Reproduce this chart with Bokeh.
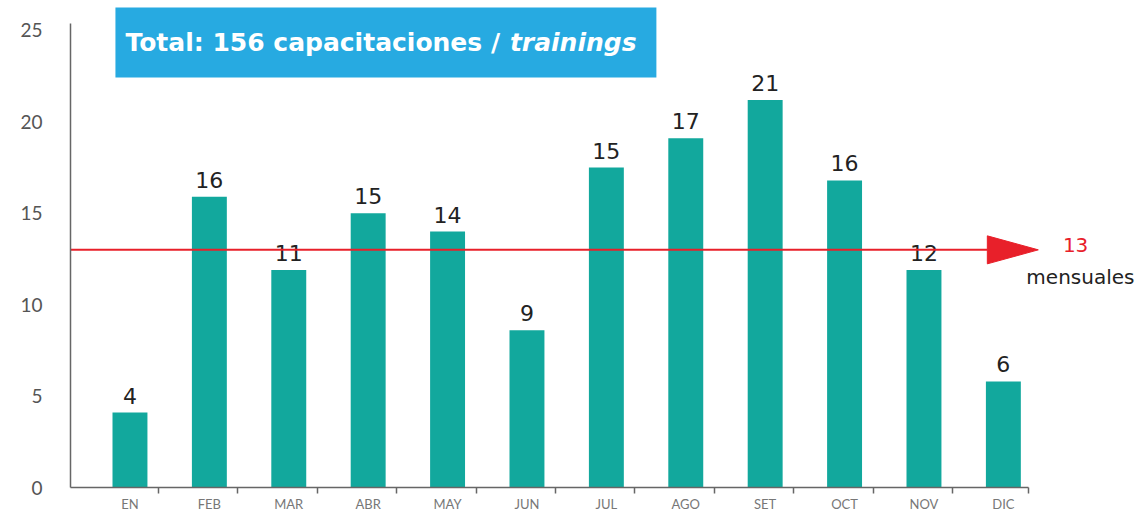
import numpy as np
from bokeh.plotting import figure
from bokeh.models import Range1d, FixedTicker, Label, BoxAnnotation, ColumnDataSource
from bokeh.core.properties import value
from bokeh.embed import file_html
from bokeh.resources import INLINE

# ---- data ----
months = ["EN", "FEB", "MAR", "ABR", "MAY", "JUN", "JUL", "AGO", "SET", "OCT", "NOV", "DIC"]
bar_heights = [4.1, 15.9, 11.9, 15.0, 14.0, 8.6, 17.5, 19.1, 21.2, 16.8, 11.9, 5.8]
value_labels = [4, 16, 11, 15, 14, 9, 15, 17, 21, 16, 12, 6]
monthly_avg = 13
total = 156
y_ticks = [0, 5, 10, 15, 20, 25]

FONT = "DejaVu Sans"
TICKFONT = "Lato"
TEAL = "#12A89D"
RED = "#E8202A"
BLUE = "#27AAE1"

x = np.arange(len(months))
x_start, x_axis_end = -0.749, 11.316
x_end = x_start + 1068 / 79.4
y_end = 26.64

p = figure(frame_width=1068, frame_height=487, output_backend="svg", toolbar_location=None,
           x_range=Range1d(x_start, x_end), y_range=Range1d(0, y_end),
           min_border_left=70, min_border_right=0, min_border_top=0, min_border_bottom=0)
p.outline_line_color = None
p.grid.visible = False
p.background_fill_color = "white"

src = ColumnDataSource(dict(x=x, top=bar_heights, lab=[str(v) for v in value_labels]))

# title box
p.add_layout(BoxAnnotation(left=-0.183, right=6.63, bottom=22.43, top=26.26,
                           fill_color=BLUE, fill_alpha=1.0, line_color=None, level="underlay"))
p.add_layout(Label(x=-0.057, y=24.34, text=f"Total: {total} capacitaciones /",
                   text_font=FONT, text_font_style="bold", text_font_size="25px",
                   text_color="white", text_baseline="middle", text_align="left"))
p.add_layout(Label(x=6.38, y=24.34, text="trainings",
                   text_font=FONT, text_font_style="bold italic", text_font_size="25px",
                   text_color="white", text_baseline="middle", text_align="right"))

# bars
p.vbar(x="x", top="top", width=0.44, source=src, fill_color=TEAL, line_color=None)
p.text(x="x", y="top", text="lab", source=src, text_align="center", text_baseline="bottom",
       y_offset=-9, text_font=value(FONT), text_font_size="22px", text_color="#222222")

# average line with arrow
head_len = 0.642
head_half = 0.766
tip = 11.44
p.line(x=[x_start, tip - head_len], y=[monthly_avg, monthly_avg], line_color=RED, line_width=2)
p.patch(x=[tip - head_len, tip, tip - head_len],
        y=[monthly_avg + head_half, monthly_avg, monthly_avg - head_half],
        fill_color=RED, line_color=RED)
p.text(x=[11.91], y=[monthly_avg + 0.24], text=[str(monthly_avg)], text_align="center",
       text_baseline="middle", text_font=value(FONT), text_font_size="20px", text_color=RED)
p.text(x=[11.97], y=[11.54], text=["mensuales"], text_align="center",
       text_baseline="middle", text_font=value(FONT), text_font_size="20px", text_color="#222222")

# axes
xa = p.xaxis[0]
xa.bounds = (x_start, x_axis_end)
boundaries = [i + 0.36 for i in range(len(months) - 1)] + [x_axis_end]
xa.ticker = FixedTicker(ticks=list(x), minor_ticks=boundaries)
xa.major_label_overrides = {int(i): m for i, m in zip(x, months)}
xa.major_tick_line_color = None
xa.major_tick_out = 0
xa.major_tick_in = 0
xa.minor_tick_line_color = "#666666"
xa.minor_tick_line_width = 1.5
xa.minor_tick_out = 6
xa.minor_tick_in = 0
xa.axis_line_color = "#666666"
xa.axis_line_width = 1.5
xa.major_label_standoff = 2
xa.major_label_text_font = TICKFONT
xa.major_label_text_font_size = "13px"
xa.major_label_text_color = "#777777"

ya = p.yaxis[0]
ya.bounds = (0, 25.38)
ya.ticker = FixedTicker(ticks=y_ticks, minor_ticks=[])
ya.major_tick_line_color = None
ya.major_tick_out = 0
ya.major_tick_in = 0
ya.minor_tick_line_color = None
ya.axis_line_color = "#666666"
ya.axis_line_width = 1.5
ya.major_label_standoff = 28
ya.major_label_text_font = TICKFONT
ya.major_label_text_font_size = "19px"
ya.major_label_text_color = "#555555"

open("out.html", "w").write(file_html(p, INLINE))
